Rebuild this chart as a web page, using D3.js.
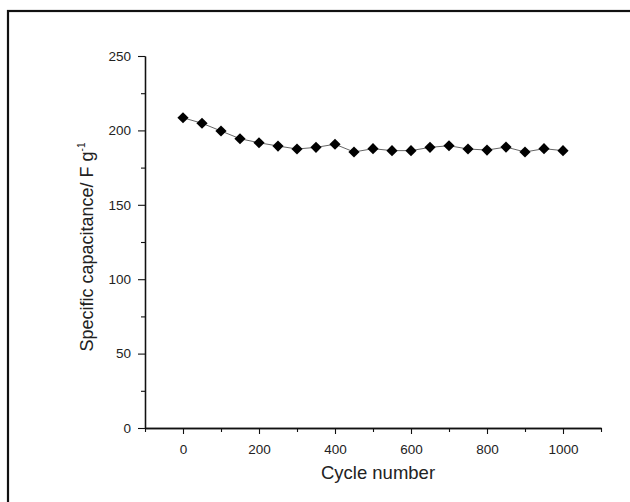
<!DOCTYPE html>
<html>
<head>
<meta charset="utf-8">
<script src="https://cdn.jsdelivr.net/npm/d3@7"></script>
<style>
  body { margin: 0; background: #fff; }
  svg { display: block; font-family: "Liberation Sans", Arial, sans-serif; }
</style>
</head>
<body>
<div id="main"></div>
<script>
// data
var cycles = [0, 50, 100, 150, 200, 250, 300, 350, 400, 450, 500,
              550, 600, 650, 700, 750, 800, 850, 900, 950, 1000];
var capacitance = [208.5, 204.8, 199.6, 194.4, 191.7, 189.5, 187.5, 188.6, 190.7, 185.5, 187.7,
                   186.4, 186.4, 188.6, 189.7, 187.5, 186.8, 188.8, 185.5, 187.7, 186.4];
var xTicks = [0, 200, 400, 600, 800, 1000];
var yTicks = [0, 50, 100, 150, 200, 250];

var W = 630, H = 502;
var plot = { left: 145, right: 601, top: 56, bottom: 428 };

var svg = d3.select('#main').append('svg')
  .attr('width', W).attr('height', H);

// outer frame (cut off at right and bottom in the original)
svg.append('rect')
  .attr('x', 8).attr('y', 11)
  .attr('width', 700).attr('height', 600)
  .attr('fill', 'none').attr('stroke', '#111').attr('stroke-width', 2.2);

var x = d3.scaleLinear().domain([-100, 1100]).range([plot.left, plot.right]);
var y = d3.scaleLinear().domain([0, 250]).range([plot.bottom, plot.top]);

function styleAxis(g) {
  g.selectAll('path').attr('stroke', '#111').attr('stroke-width', 1.3);
  g.selectAll('line').attr('stroke', '#111').attr('stroke-width', 1.1);
  g.selectAll('text').attr('fill', '#222').attr('font-size', 13.5);
}

// minor ticks first
svg.append('g')
  .attr('transform', 'translate(0,' + plot.bottom + ')')
  .call(d3.axisBottom(x).tickValues(d3.range(-100, 1101, 200)).tickSize(4).tickFormat('').tickSizeOuter(0))
  .call(styleAxis);
svg.append('g')
  .attr('transform', 'translate(' + plot.left + ',0)')
  .call(d3.axisLeft(y).tickValues(d3.range(25, 250, 50)).tickSize(4).tickFormat('').tickSizeOuter(0))
  .call(styleAxis);

// major ticks
svg.append('g')
  .attr('transform', 'translate(0,' + plot.bottom + ')')
  .call(d3.axisBottom(x).tickValues(xTicks).tickFormat(d3.format('d'))
    .tickSize(6).tickPadding(10).tickSizeOuter(0))
  .call(styleAxis);
svg.append('g')
  .attr('transform', 'translate(' + plot.left + ',0)')
  .call(d3.axisLeft(y).tickValues(yTicks).tickFormat(d3.format('d'))
    .tickSize(7).tickPadding(7).tickSizeOuter(0))
  .call(styleAxis);

// axis titles
svg.append('text')
  .attr('x', 378).attr('y', 479)
  .attr('text-anchor', 'middle')
  .attr('font-size', 18.5).attr('fill', '#222')
  .text('Cycle number');

var yt = svg.append('text')
  .attr('transform', 'translate(93,247) rotate(-90)')
  .attr('text-anchor', 'middle')
  .attr('font-size', 18).attr('fill', '#222');
yt.append('tspan').text('Specific capacitance/ F g');
yt.append('tspan').attr('dy', -8).attr('font-size', 10).text('-1');

// series
var pts = cycles.map(function(c, i) { return [c, capacitance[i]]; });

svg.append('path')
  .datum(pts)
  .attr('fill', 'none').attr('stroke', '#666').attr('stroke-width', 1)
  .attr('d', d3.line().x(function(d) { return x(d[0]); }).y(function(d) { return y(d[1]); }));

svg.append('g').selectAll('path.pt').data(pts)
  .enter().append('path')
    .attr('class', 'pt')
    .attr('transform', function(d) { return 'translate(' + x(d[0]) + ',' + y(d[1]) + ')'; })
    .attr('d', d3.symbol().type(d3.symbolDiamond2).size(80))
    .attr('fill', '#000');
</script>
</body>
</html>
